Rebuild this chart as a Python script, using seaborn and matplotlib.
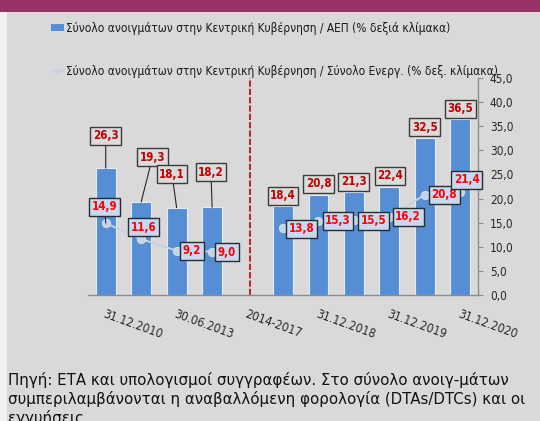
import numpy as np
import pandas as pd
import matplotlib
matplotlib.use("Agg")
import matplotlib.pyplot as plt
from matplotlib.lines import Line2D
from matplotlib.patches import Patch, Rectangle
from matplotlib.ticker import FuncFormatter, MultipleLocator
import seaborn as sns

# ---- data -------------------------------------------------------------
tick_labels = ["31.12.2010", "", "30.06.2013", "", "2014-2017", "",
               "31.12.2018", "", "31.12.2019", "", "31.12.2020"]
exposure_gdp = [26.3, 19.3, 18.1, 18.2, np.nan, 18.4, 20.8, 21.3, 22.4, 32.5, 36.5]
exposure_assets = [14.9, 11.6, 9.2, 9.0, np.nan, 13.8, 15.3, 15.5, 16.2, 20.8, 21.4]
segment = [0, 0, 0, 0, 0, 1, 1, 1, 1, 1, 1]

legend_bar = "Σύνολο ανοιγμάτων στην Κεντρική Κυβέρνηση / ΑΕΠ (% δεξιά κλίμακα)"
legend_line = "Σύνολο ανοιγμάτων στην Κεντρική Κυβέρνηση / Σύνολο Ενεργ. (% δεξ. κλίμακα)"
footnote = ["Πηγή: ΕΤΑ και υπολογισμοί συγγραφέων. Στο σύνολο ανοιγ-μάτων",
            "συμπεριλαμβάνονται η αναβαλλόμενη φορολογία (DTAs/DTCs) και οι",
            "εγγυήσεις"]

# label placement (offsets from each mark, in slot / percentage units)
bar_dx = [0, 0.32, -0.13, -0.03, 0, 0, 0, 0, 0.02, 0, 0]
bar_dy = [6.7, 9.3, 6.9, 7.3, 0, 2.2, 2.3, 2.2, 2.3, 2.25, 2.1]
bar_leader = [True, True, True, True, False, False, False, False, False, False, False]
line_dx = [-0.03, 0.07, 0.43, 0.42, 0, 0.53, 0.55, 0.55, 0.53, 0.55, 0.18]
line_dy = [3.4, 2.5, 0, -0.1, 0, -0.1, 0.05, -0.15, 0, -0.05, 2.5]
line_leader = [True, False, False, False, False, False, False, False, False, False, False]

df = pd.DataFrame({
    "slot": np.arange(len(tick_labels)),
    "gdp": exposure_gdp,
    "assets": exposure_assets,
    "segment": segment,
})

# ---- style ------------------------------------------------------------
BG = "#D9D9D9"
BAR = "#558ED5"
LINE = "#C3D3E8"
sns.set_theme(style="white")
plt.rcParams["font.family"] = ["DejaVu Sans"]
plt.rcParams["font.stretch"] = "condensed"

W, H = 540, 421
fig = plt.figure(figsize=(W / 100, H / 100), dpi=100, facecolor=BG)

# header band and left margin strip
fig.patches.append(Rectangle((0, 1 - 11.5 / H), 1, 11.5 / H, transform=fig.transFigure,
                             facecolor="#993366", edgecolor="none", zorder=0))
fig.patches.append(Rectangle((0, 0), 7 / W, 1 - 11.5 / H, transform=fig.transFigure,
                             facecolor="#F2F2F2", edgecolor="none", zorder=0))

x0, x1 = 88, 478
y0, y1 = 78, 295
ax = fig.add_axes([x0 / W, 1 - y1 / H, (x1 - x0) / W, (y1 - y0) / H])
ax.set_facecolor("none")

sns.barplot(data=df, x="slot", y="gdp", native_scale=True, width=0.56,
            color=BAR, saturation=1, edgecolor="#E4ECF5", linewidth=0.8, ax=ax, zorder=2)
sns.lineplot(data=df, x="slot", y="assets", units="segment", estimator=None,
             color=LINE, linewidth=1.4, marker="o", markersize=6,
             markerfacecolor=LINE, markeredgecolor="#DCE4EE", markeredgewidth=0.6,
             ax=ax, zorder=3, legend=False)

ax.set_xlim(-0.5, 10.5)
ax.set_ylim(0, 45)
ax.axvline(4.08, color="#BE2A2A", linestyle=(0, (3, 1)), linewidth=1.5, zorder=1)

# axes styling
for side in ("top", "left"):
    ax.spines[side].set_visible(False)
for side in ("bottom", "right"):
    ax.spines[side].set_color("#8C8C8C")
    ax.spines[side].set_linewidth(1.0)
ax.yaxis.tick_right()
ax.yaxis.set_major_locator(MultipleLocator(5))
ax.yaxis.set_major_formatter(FuncFormatter(lambda v, p: f"{v:.1f}".replace(".", ",")))
ax.tick_params(axis="y", which="major", right=True, left=False, length=3.5, width=0.8,
               color="#8C8C8C", pad=5, labelsize=8.5, labelcolor="#262626")
ax.set_xticks(df["slot"])
ax.set_xticklabels(tick_labels, rotation=-20, ha="left", va="top",
                   rotation_mode="anchor", fontsize=8.7, color="#262626")
ax.tick_params(axis="x", length=0, pad=9)
ax.set_xlabel("")
ax.set_ylabel("")

# value labels
def fmt(v):
    return f"{v:.1f}".replace(".", ",")

for i, v in enumerate(exposure_gdp):
    if np.isnan(v):
        continue
    arrow = dict(arrowstyle="-", color="#262626", lw=0.8, shrinkA=0, shrinkB=0) if bar_leader[i] else None
    ax.annotate(fmt(v), xy=(i, v), xytext=(i + bar_dx[i], v + bar_dy[i]),
                ha="center", va="center", fontsize=8.3, fontweight="bold", color="#C00000",
                bbox=dict(boxstyle="square,pad=0.22", facecolor="#DCDCDC",
                          edgecolor="#3A3A3A", linewidth=1.0),
                arrowprops=arrow, zorder=5)

for i, v in enumerate(exposure_assets):
    if np.isnan(v):
        continue
    arrow = dict(arrowstyle="-", color="#262626", lw=0.8, shrinkA=0, shrinkB=0) if line_leader[i] else None
    ax.annotate(fmt(v), xy=(i, v), xytext=(i + line_dx[i], v + line_dy[i]),
                ha="center", va="center", fontsize=8.3, fontweight="bold", color="#FF0000",
                bbox=dict(boxstyle="square,pad=0.22", facecolor="#C6D9F1",
                          edgecolor="#2B2B2B", linewidth=1.0),
                arrowprops=arrow, zorder=6)

# legend
handles = [Patch(facecolor=BAR, edgecolor="none"),
           Line2D([0], [0], color=LINE, linewidth=1.4, marker="o", markersize=3,
                  markerfacecolor=LINE, markeredgecolor=LINE)]
fig.legend(handles, [legend_bar, legend_line], loc="upper left",
           bbox_to_anchor=(51 / W, 1 - 22 / H), frameon=False, fontsize=8.6,
           handlelength=1.05, handleheight=0.55, handletextpad=0.18,
           labelspacing=2.5, borderpad=0, borderaxespad=0, labelcolor="#1A1A1A")

# footnote
for k, line in enumerate(footnote):
    fig.text(8 / W, 1 - (385 + 19 * k) / H, line, ha="left", va="baseline",
             fontsize=10.8, color="#111111", fontstretch="normal")

fig.savefig("out.png", dpi=100, facecolor=BG)
